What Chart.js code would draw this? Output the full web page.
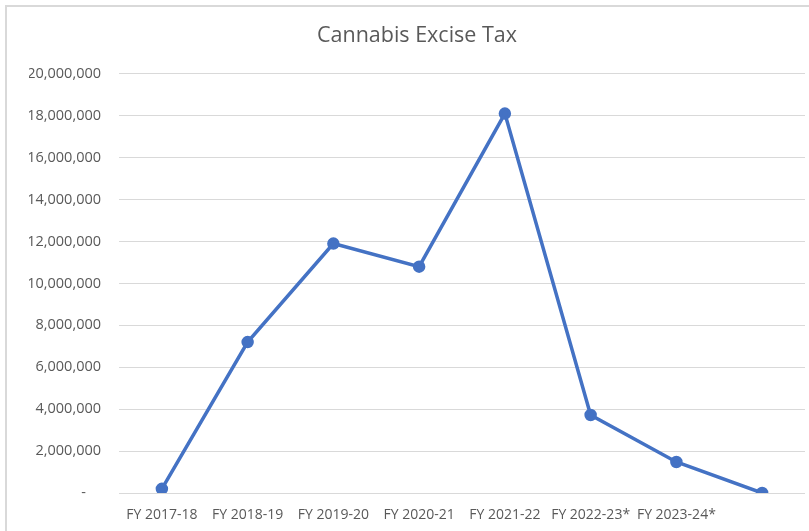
<!DOCTYPE html>
<html>
<head>
<meta charset="utf-8">
<script src="https://cdn.jsdelivr.net/npm/chart.js@4"></script>
<style>
  body { margin: 0; background: #fff; overflow: hidden; }
  #frame { position: absolute; left: 5px; top: 5px; width: 840px; height: 540px;
           border-left: 2px solid #d9d9d9; border-top: 2px solid #d9d9d9; pointer-events: none; }
  #wrap { position: absolute; left: 0; top: 0; width: 835px; height: 531px; }
</style>
</head>
<body>
<div id="wrap"><canvas id="chart"></canvas></div>
<div id="frame"></div>
<script>
// data
const years = ["FY 2017-18", "FY 2018-19", "FY 2019-20", "FY 2020-21", "FY 2021-22", "FY 2022-23*", "FY 2023-24*", ""];
const exciseTax = [200000, 7200000, 11900000, 10800000, 18100000, 3720000, 1480000, 0];

const grey = "#595959";
const font = "'Open Sans', sans-serif";

new Chart(document.getElementById("chart"), {
  type: "line",
  data: {
    labels: years,
    datasets: [
      {
        label: "Cannabis Excise Tax",
        data: exciseTax,
        borderColor: "#4472c4",
        backgroundColor: "#4472c4",
        borderWidth: 3.5,
        pointRadius: 4.5,
        pointHoverRadius: 4.5,
        tension: 0,
      },
    ],
  },
  options: {
    responsive: true,
    maintainAspectRatio: false,
    animation: false,
    // chart frame runs past the right edge, so the title centres further right
    layout: { padding: { left: 29, right: 30, top: 0, bottom: 0 } },
    plugins: {
      legend: { display: false },
      tooltip: { enabled: false },
      title: {
        display: true,
        text: "Cannabis Excise Tax",
        color: grey,
        font: { family: font, size: 21.5, weight: "normal" },
        padding: { top: 23, bottom: 25 },
      },
    },
    scales: {
      x: {
        offset: true,
        grid: { display: false },
        border: { display: false },
        ticks: {
          color: grey,
          font: { family: font, size: 14 },
          maxRotation: 0,
          autoSkip: false,
          padding: 6,
        },
        afterFit: (s) => { s.height = 38; },
      },
      y: {
        min: 0,
        max: 20000000,
        grid: { color: "#d9d9d9", lineWidth: 1, drawTicks: false },
        border: { display: false },
        ticks: {
          stepSize: 2000000,
          color: grey,
          font: { family: font, size: 14.5 },
          padding: 18,
          callback: (v) => (v === 0 ? "-    " : v.toLocaleString("en-US")),
        },
        afterFit: (s) => { s.width = 90; },
      },
    },
  },
});
</script>
</body>
</html>
